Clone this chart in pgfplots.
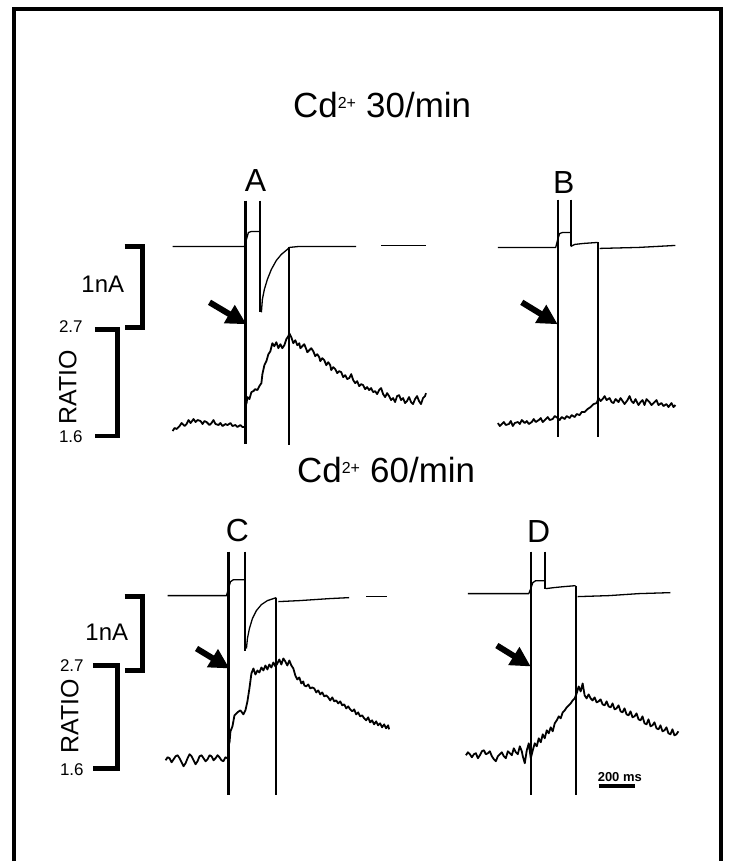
\documentclass[border=0pt]{standalone}
\usepackage{pgfplots}
\pgfplotsset{compat=1.18}
\usepackage{fontspec}
\setmainfont{Liberation Sans}
\usetikzlibrary{arrows.meta}
\begin{document}
\begin{tikzpicture}
\begin{axis}[width=732pt,height=863pt,scale only axis,
  xmin=0,xmax=732,ymin=0,ymax=863,y dir=reverse,hide axis,clip=false,
  trace/.style={black,line width=1.3pt,line join=round},
  stim/.style={black,line width=2pt},
  ratio/.style={black,line width=1.8pt,line join=round},
  brk/.style={black,line width=5pt,line join=miter}]
\path (axis cs:0,0) rectangle (axis cs:732,863);
% frame
\draw[line width=4pt] (axis cs:14,863) -- (axis cs:14,9) -- (axis cs:723,9) -- (axis cs:723,863);
% titles
\node at (axis cs:383,105) {\fontsize{35}{40}\selectfont Cd\textsuperscript{\fontsize{16}{16}\selectfont 2+} 30/min};
\node at (axis cs:387,471) {\fontsize{35}{40}\selectfont Cd\textsuperscript{\fontsize{16}{16}\selectfont 2+} 60/min};
\node at (axis cs:256,181) {\fontsize{32}{36}\selectfont A};
\node at (axis cs:565,183) {\fontsize{32}{36}\selectfont B};
\node at (axis cs:238,532) {\fontsize{32}{36}\selectfont C};
\node at (axis cs:540,533) {\fontsize{32}{36}\selectfont D};
% ---------------- Panel A ----------------
\addplot[trace] coordinates {(173,247)(200,247)(230,247)(245,247)(247,240)(249,233)(252,232)(261,232)};
\addplot[trace] coordinates {(262,313)(263,300)(265,290)(268,280)(272,270)(277,261)(282,255)(288,250)(290,248)};
\addplot[trace] coordinates {(290,248)(300,247)(330,247)(357,247)};
\addplot[trace] coordinates {(382,246)(427,246)};
\addplot[stim,line width=2.6pt] coordinates {(246,201)(246,445)};
\addplot[stim] coordinates {(261,201)(261,313)};
\addplot[stim] coordinates {(290,248)(290,446)};
\addplot[ratio] coordinates {(173,432)(175,429)(177,430)(180,427)(182,424)(185,427)(187,425)(189,421)(191,424)(194,420)(196,423)(198,421)(201,422)(203,425)(205,422)(207,423)(210,426)(212,424)(214,421)(216,425)(219,426)(221,424)(223,427)(226,425)(228,426)(231,424)(233,427)(236,426)(238,428)(241,426)(243,428)(246,428)};
\addplot[ratio] coordinates {(247,405)(248,398)(250,400)(252,393)(254,392)(256,390)(258,391)(260,387)(262,384)(263,375)(265,366)(267,362)(269,355)(271,352)(273,344)(275,347)(277,343)(279,349)(281,345)(283,349)(285,346)(287,340)(289,337)(290,334)(292,338)(294,344)(296,341)(298,346)(300,344)(301,349)(303,347)(305,345)(307,350)(308,353)(310,351)(312,349)(314,352)(316,357)(318,355)(320,358)(321,362)(323,359)(325,361)(327,366)(329,363)(331,366)(332,371)(334,368)(336,370)(338,374)(340,372)(342,373)(344,378)(346,376)(348,380)(350,379)(352,375)(354,381)(356,384)(358,382)(360,387)(362,385)(364,386)(366,390)(368,388)(370,391)(372,389)(374,393)(376,392)(378,395)(380,391)(382,389)(384,395)(386,398)(388,394)(390,397)(392,401)(394,399)(396,403)(398,397)(400,396)(402,401)(404,399)(406,404)(408,402)(410,398)(412,403)(414,405)(416,400)(418,397)(420,402)(422,405)(424,399)(426,397)(427,394)};
\draw[line width=6pt,-{Triangle[length=20pt,width=20pt]}] (axis cs:210,303) -- (axis cs:247,325);
% ---------------- Panel B ----------------
\addplot[trace] coordinates {(499,248)(530,248)(557,248)(559,240)(561,234)(564,233)(572,233)};
\addplot[trace] coordinates {(572,247)(576,245)(585,244)(599,243)};
\addplot[trace] coordinates {(601,249)(640,248)(677,246)};
\addplot[stim] coordinates {(559,200)(559,438)};
\addplot[stim] coordinates {(572,200)(572,247)};
\addplot[stim] coordinates {(599,243)(599,438)};
\addplot[ratio] coordinates {(499,424)(501,427)(503,425)(505,423)(507,426)(510,425)(512,422)(514,427)(516,424)(519,423)(521,425)(523,421)(526,424)(528,422)(530,425)(533,423)(535,420)(537,423)(540,421)(542,419)(544,423)(547,420)(549,418)(551,421)(554,420)(556,417)(559,419)(561,421)(563,418)(566,420)(568,417)(571,419)(573,416)(576,418)(578,415)(581,416)(583,413)(586,413)(589,410)(592,408)(595,405)(598,404)(600,399)(602,402)(604,400)(606,397)(608,401)(611,399)(613,403)(615,404)(617,400)(620,403)(622,399)(624,402)(626,405)(629,401)(631,397)(633,402)(635,404)(637,400)(640,406)(642,403)(644,401)(646,406)(648,400)(651,403)(653,406)(656,403)(658,401)(660,406)(663,404)(665,407)(668,405)(670,408)(673,404)(675,408)(677,406)};
\draw[line width=6pt,-{Triangle[length=20pt,width=20pt]}] (axis cs:523,303) -- (axis cs:559,325);
% ---------------- Panel C ----------------
\addplot[trace] coordinates {(168,597)(200,597)(227,597)(229,590)(231,583)(234,581)(246,581)};
\addplot[trace] coordinates {(247,650)(248,640)(250,630)(253,620)(257,612)(262,606)(268,602)(274,600)(277,599)};
\addplot[trace] coordinates {(279,603)(300,602)(330,600)(350,599)};
\addplot[trace] coordinates {(367,598)(388,598)};
\addplot[stim,line width=2.6pt] coordinates {(229,553)(229,797)};
\addplot[stim] coordinates {(246,553)(246,653)};
\addplot[stim] coordinates {(277,599)(277,797)};
\addplot[ratio] coordinates {(166,762)(168,759)(170,760)(172,764)(174,761)(176,758)(178,757)(180,760)(182,764)(184,768)(186,765)(188,760)(190,756)(192,758)(194,762)(196,766)(198,763)(200,758)(202,757)(204,760)(206,763)(208,761)(210,757)(212,758)(214,762)(216,760)(218,757)(220,759)(222,762)(224,763)(226,759)(228,760)};
\addplot[ratio] coordinates {(230,745)(231,733)(233,728)(235,717)(238,714)(241,712)(244,716)(246,712)(248,703)(250,690)(252,675)(254,670)(256,676)(258,672)(260,674)(262,669)(264,672)(266,667)(268,671)(270,666)(272,669)(274,664)(276,668)(278,665)(280,661)(282,666)(284,660)(286,663)(288,667)(290,662)(292,667)(294,670)(296,677)(298,681)(300,679)(302,685)(304,683)(305,687)(307,688)(309,686)(311,690)(313,689)(315,690)(317,694)(319,692)(321,696)(323,694)(325,698)(327,697)(329,699)(331,702)(333,699)(335,703)(337,702)(339,705)(341,703)(343,707)(345,706)(347,710)(349,708)(351,711)(353,713)(355,711)(357,716)(359,714)(361,718)(363,717)(365,720)(367,722)(369,719)(371,724)(373,722)(375,726)(377,723)(379,727)(381,725)(383,729)(385,726)(387,730)(389,727)(390,731)};
\draw[line width=6pt,-{Triangle[length=20pt,width=20pt]}] (axis cs:197,650) -- (axis cs:230,670);
% ---------------- Panel D ----------------
\addplot[trace] coordinates {(469,595)(500,595)(530,595)(532,590)(534,584)(537,582)(546,582)};
\addplot[trace] coordinates {(547,590)(555,589)(565,588)(577,587)};
\addplot[trace] coordinates {(579,598)(610,597)(640,595)(672,594)};
\addplot[stim,line width=2.4pt] coordinates {(532,553)(532,797)};
\addplot[stim] coordinates {(546,553)(546,590)};
\addplot[stim] coordinates {(577,587)(577,797)};
\addplot[ratio] coordinates {(467,757)(469,754)(471,756)(473,759)(475,756)(477,755)(479,760)(481,757)(483,753)(485,752)(487,756)(489,755)(491,753)(493,758)(495,761)(497,763)(499,758)(501,756)(503,754)(505,758)(507,760)(509,753)(511,755)(513,757)(515,750)(517,754)(519,756)(521,748)(523,753)(524,758)(526,765)(528,752)(530,745)(532,760)(534,752)(536,745)(538,748)(540,740)(542,744)(544,736)(546,740)(548,732)(550,735)(552,729)(554,733)(556,725)(558,722)(560,718)(562,720)(564,714)(566,712)(568,709)(570,707)(572,705)(574,702)(576,700)(578,695)(580,688)(582,693)(584,685)(586,697)(588,700)(590,696)(592,700)(594,702)(596,699)(598,704)(600,703)(602,701)(604,706)(606,707)(608,703)(610,708)(612,709)(614,705)(616,711)(618,710)(620,707)(622,713)(624,714)(626,710)(628,716)(630,717)(632,713)(634,719)(636,718)(638,715)(640,721)(642,722)(644,718)(646,725)(648,726)(650,721)(652,728)(654,727)(656,724)(658,730)(660,731)(662,727)(664,733)(666,732)(668,729)(670,735)(672,736)(674,731)(676,737)(678,736)(680,733)};
\draw[line width=6pt,-{Triangle[length=20pt,width=20pt]}] (axis cs:498,647) -- (axis cs:532,668);
% time scale bar
\addplot[black,line width=4pt] coordinates {(600,788)(636,788)};
\node[anchor=west,inner sep=0pt] at (axis cs:599,779) {\fontsize{13}{14}\selectfont\bfseries 200 ms};
% ---------------- left scale bars ----------------
\addplot[brk] coordinates {(125,247)(143,247)(143,328)(125,328)};
\addplot[brk] coordinates {(95,330)(118,330)(118,437)(95,437)};
\node at (axis cs:103,285) {\fontsize{24}{26}\selectfont 1nA};
\node at (axis cs:71,327) {\fontsize{17}{18}\selectfont 2.7};
\node at (axis cs:71,438) {\fontsize{17}{18}\selectfont 1.6};
\node[rotate=90] at (axis cs:68,388) {\fontsize{25}{26}\selectfont RATIO};
\addplot[brk] coordinates {(125,598)(143,598)(143,672)(125,672)};
\addplot[brk] coordinates {(93,667)(118,667)(118,770)(93,770)};
\node at (axis cs:107,634) {\fontsize{24}{26}\selectfont 1nA};
\node at (axis cs:72,667) {\fontsize{17}{18}\selectfont 2.7};
\node at (axis cs:72,771) {\fontsize{17}{18}\selectfont 1.6};
\node[rotate=90] at (axis cs:70,718) {\fontsize{25}{26}\selectfont RATIO};
\end{axis}
\end{tikzpicture}
\end{document}
